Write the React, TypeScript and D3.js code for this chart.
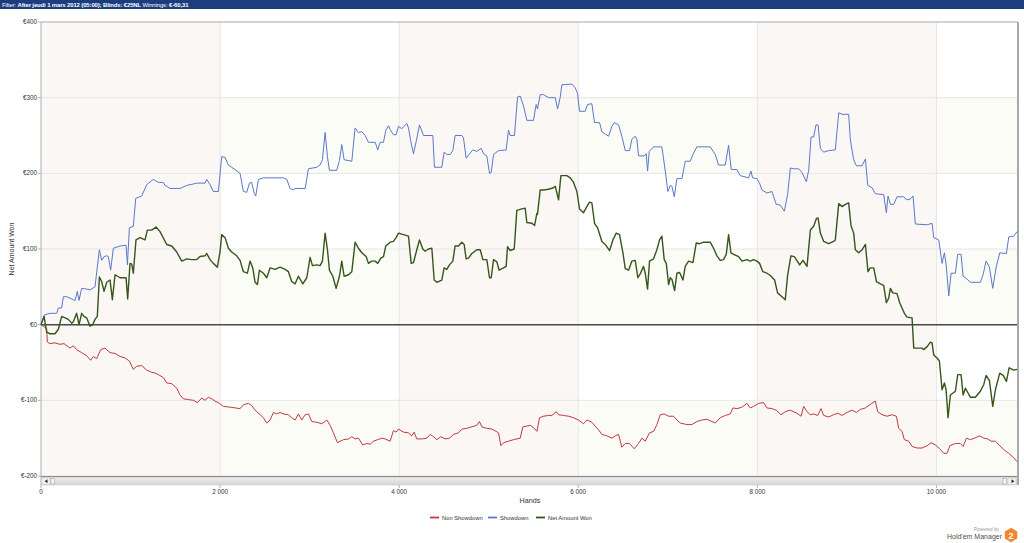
import React from "react";
import * as d3 from "d3";

const yTicks = [-200, -100, 0, 100, 200, 300, 400];
const xTicks = [0, 2000, 4000, 6000, 8000, 10000];
const xTickLabels = ["0", "2 000", "4 000", "6 000", "8 000", "10 000"];
const yTickLabels = ["€-200", "€-100", "€0", "€100", "€200", "€300", "€400"];
const seriesNames = ["Non Showdown", "Showdown", "Net Amount Won"];
const seriesColors = ["#c0393f", "#5a78c8", "#35561b"];

const showdown: [number, number][] = [
  [0,0],[40,13],[101,15],[175,15],[194,22],[231,22],[250,37],[287,37],[324,35],[361,33],[380,32],[406,44],[425,32],[454,48],[510,47],[547,46],[603,50],[652,99],[678,85],[704,90],[734,91],[752,90],[778,72],[808,101],[883,104],[950,105],[965,79],[987,128],[1031,130],[1058,167],[1125,170],[1180,185],[1255,192],[1311,188],[1367,188],[1385,184],[1441,180],[1553,180],[1627,184],[1702,186],[1739,187],[1832,187],[1851,192],[1888,185],[1925,176],[1981,176],[2018,222],[2056,221],[2093,211],[2130,208],[2167,205],[2223,200],[2260,176],[2298,175],[2327,187],[2353,188],[2380,174],[2398,170],[2428,192],[2484,194],[2707,194],[2745,192],[2782,180],
  [2819,178],[2838,180],[2950,180],[2987,206],[3080,208],[3117,211],[3143,218],[3173,254],[3199,222],[3221,204],[3303,204],[3333,217],[3359,238],[3385,218],[3471,216],[3508,260],[3545,254],[3583,255],[3620,250],[3657,241],[3732,241],[3761,231],[3787,241],[3825,241],[3851,257],[3881,263],[3899,258],[3936,251],[3966,251],[3992,262],[4030,259],[4085,266],[4104,260],[4130,242],[4160,226],[4190,242],[4227,264],[4272,250],[4376,250],[4394,208],[4476,208],[4502,228],[4532,225],[4570,225],[4599,230],[4625,250],[4700,250],[4718,247],[4748,220],[4774,224],[4823,231],[4867,229],[4916,233],[4942,226],[4979,223],[5009,200],[5028,201],[5054,225],[5110,230],[5195,231],[5221,257],[5240,250],[5288,250],[5322,301],[5352,302],[5389,289],[5426,270],[5500,270],[5530,291],[5545,285],[5575,304],[5612,304],[5668,300],
  [5743,300],[5769,285],[5798,300],[5817,317],[5929,318],[5966,313],[5992,306],[6014,282],[6078,282],[6104,291],[6152,292],[6182,267],[6238,267],[6264,255],[6301,252],[6338,249],[6376,262],[6402,267],[6450,264],[6487,249],[6525,230],[6573,230],[6599,245],[6636,249],[6655,245],[6674,223],[6737,223],[6759,226],[6774,203],[6793,229],[6841,235],[6934,235],[6972,203],[7001,176],[7027,184],[7046,183],[7072,169],[7102,193],[7158,193],[7195,216],[7251,216],[7281,225],[7325,235],[7474,235],[7530,225],[7567,211],[7642,211],[7679,237],[7709,205],[7772,205],[7809,197],[7903,194],[7929,203],[7947,194],[7996,193],[8025,187],[8051,178],[8107,174],[8163,176],[8211,159],[8256,158],[8302,150],[8338,172],[8369,207],
  [8406,206],[8462,206],[8499,201],[8547,189],[8574,204],[8600,248],[8629,248],[8655,264],[8678,264],[8704,233],[8741,228],[8797,230],[8871,231],[8909,280],[8946,278],[9020,278],[9039,244],[9076,218],[9106,210],[9169,210],[9207,219],[9233,184],[9281,181],[9318,173],[9411,172],[9441,148],[9460,170],[9486,159],[9523,159],[9560,169],[9635,169],[9665,165],[9709,166],[9739,170],[9765,133],[9896,132],[9951,134],[9970,115],[10026,112],[10063,81],[10089,95],[10108,80],[10138,38],[10164,68],[10212,68],[10238,93],[10275,93],[10298,64],[10324,62],[10380,56],[10491,56],[10521,66],[10555,84],[10592,76],[10629,48],[10666,75],[10707,95],[10782,94],[10808,116],[10864,117],[10901,123]
];

const netWon: [number, number][] = [
  [0,0],[34,11],[63,-10],[101,-12],[156,-12],[175,-9],[194,-6],[231,11],[268,9],[305,7],[343,2],[361,4],[398,15],[425,0],[454,15],[480,11],[510,9],[547,-2],[577,0],[603,7],[629,11],[652,63],[678,57],[704,44],[734,56],[771,59],[797,33],[827,66],[883,62],[950,62],[968,34],[994,81],[1013,80],[1031,68],[1061,112],[1106,115],[1162,112],[1188,125],[1236,125],[1285,129],[1329,123],[1404,106],[1460,104],[1516,96],[1572,84],[1627,87],[1683,86],[1739,86],[1776,90],[1832,91],[1851,94],[1888,86],[1925,81],[1970,76],[2000,97],[2018,119],[2056,115],[2093,101],[2130,96],[2186,91],[2223,85],[2260,70],[2305,68],[2335,84],[2365,75],[2391,56],[2417,53],[2439,72],[2484,68],[2521,62],[2558,75],[2614,73],[2670,76],[2726,73],[2763,70],[2800,57],[2838,54],[2875,64],[2924,54],[2968,62],[3005,89],[3032,78],[3080,79],[3117,78],[3143,84],[3173,121],[3199,99],[3221,72],[3259,64],[3296,48],[3333,64],[3359,84],[3385,64],[3434,66],[3471,70],[3508,109],[3545,101],[3583,95],[3631,90],[3657,81],[3694,84],[3732,84],[3761,81],[3795,88],[3825,90],[3851,104],[3899,109],[3936,110],[3966,115],[3992,121],[4048,119],[4104,117],[4134,81],[4160,82],[4197,99],[4227,112],[4264,100],[4290,97],[4327,100],[4365,101],[4391,59],[4421,56],[4476,59],[4502,75],[4532,73],[4562,79],[4599,84],[4625,104],[4663,104],[4700,109],[4726,106],[4748,87],[4774,88],[4812,94],[4867,99],[4905,99],[4935,86],[4979,86],[5009,62],[5028,62],[5054,86],[5091,83],[5117,72],[5165,75],[5195,77],[5210,103],[5240,98],[5285,100],[5314,151],[5370,153],[5407,154],[5426,135],[5482,134],[5512,131],[5538,147],[5545,146],[5575,178],[5612,178],[5668,179],
  [5724,181],[5743,183],[5780,165],[5806,197],[5873,197],[5910,194],[5947,188],[5985,176],[6014,153],[6059,148],[6096,156],[6126,162],[6152,161],[6182,134],[6216,128],[6264,110],[6301,106],[6350,98],[6387,112],[6424,121],[6461,119],[6499,95],[6525,74],[6562,72],[6599,84],[6636,85],[6666,62],[6692,67],[6729,77],[6748,68],[6774,47],[6796,84],[6841,87],[6878,99],[6908,112],[6934,117],[6960,86],[6983,81],[7009,53],[7027,62],[7046,60],[7076,45],[7102,68],[7132,69],[7169,59],[7195,77],[7232,84],[7281,82],[7318,108],[7355,107],[7400,109],[7474,109],[7511,101],[7549,91],[7586,85],[7623,86],[7653,93],[7679,119],[7705,95],[7735,93],[7791,90],[7828,84],[7884,86],[7921,84],[7958,86],[7996,84],[8025,81],[8062,70],[8107,68],[8145,65],[8193,59],[8226,42],[8275,37],[8312,33],[8338,65],[8375,91],
  [8413,90],[8473,79],[8510,85],[8555,77],[8592,125],[8629,130],[8659,140],[8678,141],[8704,121],[8741,110],[8797,107],[8853,110],[8871,112],[8909,160],[8946,156],[8983,159],[9020,161],[9046,131],[9076,121],[9095,99],[9132,95],[9169,99],[9207,106],[9236,70],[9262,75],[9300,75],[9330,57],[9374,54],[9411,52],[9441,29],[9467,35],[9486,48],[9512,42],[9560,41],[9590,29],[9642,15],[9672,10],[9728,9],[9747,-31],[9840,-31],[9858,-33],[9896,-29],[9933,-23],[9951,-24],[9970,-40],[10007,-44],[10033,-48],[10063,-86],[10089,-77],[10108,-86],[10130,-123],[10156,-93],[10212,-88],[10238,-66],[10275,-66],[10298,-93],[10324,-84],[10380,-96],[10435,-96],[10491,-88],[10529,-79],[10555,-67],[10592,-74],[10629,-108],[10659,-86],[10707,-64],[10745,-67],[10782,-75],[10812,-57],[10864,-60],[10901,-59]
];

const nonShowdown: [number, number][] = [
  [0,0],[63,-5],[71,-23],[101,-25],[156,-24],[212,-26],[257,-25],[324,-31],[361,-28],[398,-33],[454,-37],[510,-41],[555,-47],[585,-42],[622,-45],[667,-33],[715,-31],[771,-37],[827,-38],[883,-42],[938,-44],[987,-48],[1031,-59],[1069,-55],[1125,-54],[1180,-60],[1236,-63],[1274,-64],[1311,-66],[1367,-70],[1404,-77],[1460,-78],[1516,-84],[1553,-93],[1590,-98],[1646,-99],[1702,-100],[1747,-103],[1795,-97],[1832,-100],[1869,-96],[1907,-98],[1944,-101],[1992,-104],[2037,-108],[2112,-109],[2167,-110],[2223,-111],[2260,-106],[2316,-104],[2353,-107],[2391,-113],[2447,-119],[2484,-123],[2521,-130],[2558,-126],[2596,-116],[2633,-118],[2670,-116],[2707,-118],[2763,-119],[2800,-123],[2838,-126],[2875,-118],
  [2912,-126],[2950,-119],[2987,-118],[3024,-128],[3080,-129],[3136,-131],[3192,-126],[3229,-133],[3266,-143],[3311,-156],[3341,-154],[3378,-152],[3434,-151],[3471,-148],[3508,-151],[3545,-150],[3594,-159],[3639,-157],[3676,-158],[3713,-154],[3758,-152],[3806,-150],[3843,-151],[3899,-154],[3936,-140],[3966,-142],[3992,-138],[4048,-142],[4104,-143],[4141,-147],[4167,-142],[4197,-151],[4253,-151],[4309,-150],[4346,-145],[4383,-148],[4421,-152],[4465,-148],[4514,-151],[4562,-150],[4607,-145],[4663,-143],[4700,-138],[4756,-137],[4812,-135],[4867,-133],[4897,-128],[4923,-135],[4979,-137],[5035,-138],[5083,-141],[5110,-143],[5136,-160],[5165,-156],[5221,-154],[5277,-152],[5352,-150],[5381,-135],[5426,-134],[5463,-133],[5500,-136],[5538,-141],[5568,-123],[5612,-121],[5668,-120],
  [5705,-120],[5754,-115],[5780,-119],[5836,-120],[5892,-121],[5947,-123],[6003,-126],[6059,-131],[6096,-126],[6152,-129],[6189,-134],[6227,-139],[6264,-145],[6320,-147],[6376,-150],[6413,-147],[6450,-145],[6487,-162],[6525,-157],[6573,-157],[6625,-164],[6674,-157],[6711,-150],[6748,-154],[6796,-143],[6841,-141],[6878,-132],[6916,-119],[6960,-118],[7009,-121],[7065,-121],[7102,-126],[7139,-130],[7214,-132],[7269,-132],[7325,-128],[7381,-126],[7437,-125],[7493,-128],[7530,-130],[7586,-123],[7642,-120],[7698,-118],[7727,-110],[7772,-111],[7828,-109],[7884,-104],[7921,-110],[7958,-108],[8014,-104],[8070,-103],[8107,-110],[8163,-111],[8211,-113],[8264,-119],[8312,-115],[8368,-113],[8442,-117],
  [8488,-121],[8518,-108],[8555,-115],[8592,-119],[8629,-118],[8674,-120],[8711,-111],[8741,-120],[8797,-122],[8853,-119],[8898,-117],[8946,-120],[9002,-116],[9058,-113],[9106,-116],[9151,-112],[9207,-110],[9255,-106],[9292,-103],[9318,-101],[9344,-115],[9393,-119],[9449,-121],[9505,-119],[9553,-121],[9579,-137],[9616,-141],[9642,-152],[9691,-154],[9728,-161],[9784,-163],[9840,-163],[9896,-160],[9940,-156],[9989,-159],[10037,-164],[10082,-170],[10119,-170],[10149,-160],[10212,-157],[10268,-157],[10298,-161],[10335,-150],[10380,-152],[10424,-150],[10484,-147],[10529,-150],[10573,-151],[10610,-154],[10659,-154],[10707,-160],[10752,-165],[10808,-170],[10864,-176],[10901,-181]
];

const headerParts = ["Filter: ", "After jeudi 1 mars 2012 (05:00); Blinds: €25NL", " Winnings: ", "€-60,31"];
const headerBold = [false, true, false, true];

const W = 1024;
const H = 543;
const FONT = "'Liberation Sans', Arial, sans-serif";

export default function App() {
  const x = d3.scaleLinear().domain([0, 10900]).range([41, 1017]);
  const y = d3.scaleLinear().domain([-200, 400]).range([476, 22]);
  const line = d3.line<[number, number]>().x((d) => x(d[0])).y((d) => y(d[1]));

  const colBounds = [0, 2000, 4000, 6000, 8000, 10000, 10900];
  const bands: JSX.Element[] = [];
  for (let i = 0; i < colBounds.length - 1; i++) {
    const x0 = x(colBounds[i]);
    const x1 = x(colBounds[i + 1]);
    if (i % 2 === 0) {
      bands.push(<rect key={"c" + i} x={x0} y={y(400)} width={x1 - x0} height={y(-200) - y(400)} fill="#fbf7f5" />);
    } else {
      [[300, 200], [100, 0], [-100, -200]].forEach(([a, b], j) => {
        bands.push(<rect key={"r" + i + "-" + j} x={x0} y={y(a)} width={x1 - x0} height={y(b) - y(a)} fill="#fcfcf6" />);
      });
    }
  }

  const series = [nonShowdown, showdown, netWon];
  const legendX = [430, 488, 536];

  return (
    <div style={{ position: "absolute", left: 0, top: 0 }}>
      <svg width={W} height={H} style={{ display: "block", fontFamily: FONT }}>
        <rect x={0} y={0} width={W} height={H} fill="#ffffff" />
        {/* header */}
        <rect x={0} y={0} width={W} height={9} fill="#1c3e7e" />
        <text x={2} y={6.7} fontSize={5.9} fill="#ffffff" letterSpacing={-0.1} style={{ whiteSpace: "pre" }}>
          {headerParts.map((p, i) => (
            <tspan key={"h" + i} fontWeight={headerBold[i] ? "bold" : "normal"}>{p}</tspan>
          ))}
        </text>

        {/* plot background */}
        {bands}
        {/* gridlines */}
        {yTicks.map((t) => (
          <line key={"gy" + t} x1={x(0)} x2={x(10900)} y1={y(t)} y2={y(t)} stroke="#e6e6e6" strokeWidth={1} />
        ))}
        {xTicks.slice(1).map((t) => (
          <line key={"gx" + t} x1={x(t)} x2={x(t)} y1={y(400)} y2={y(-200)} stroke="#e6e6e6" strokeWidth={1} />
        ))}
        {/* frame */}
        <line x1={x(0)} x2={x(10900) + 1} y1={y(400)} y2={y(400)} stroke="#b4b4b4" strokeWidth={1} />
        <line x1={x(0)} x2={x(0)} y1={y(400)} y2={y(-200) + 9} stroke="#b0b0b0" strokeWidth={1} />
        <line x1={x(10900) + 1} x2={x(10900) + 1} y1={y(400)} y2={y(-200) + 9} stroke="#8c8c8c" strokeWidth={1.5} />
        {/* y ticks */}
        {yTicks.map((t, i) => (
          <g key={"yt" + t}>
            <line x1={x(0) - 3} x2={x(0)} y1={y(t)} y2={y(t)} stroke="#b0b0b0" />
            <text x={x(0) - 4} y={y(t) + 2} fontSize={6.3} fill="#333" textAnchor="end">{yTickLabels[i]}</text>
          </g>
        ))}
        <text transform={`translate(14,${(y(400) + y(-200)) / 2}) rotate(-90)`} fontSize={7} fill="#333" textAnchor="middle">Net Amount Won</text>

        {/* zero line */}
        <line x1={x(0)} x2={x(10900)} y1={y(0)} y2={y(0)} stroke="#4a4a4a" strokeWidth={1.5} />

        {/* series */}
        {series.map((s, i) => (
          <path key={"s" + i} d={line(s) || ""} fill="none" stroke={seriesColors[i]} strokeWidth={i === 2 ? 1.4 : 1} strokeLinejoin="round" />
        ))}

        {/* scrollbar */}
        <line x1={x(0)} x2={x(10900)} y1={y(-200) + 0.5} y2={y(-200) + 0.5} stroke="#8a8a8a" strokeWidth={1.2} />
        <defs>
          <linearGradient id="sb" x1="0" y1="0" x2="0" y2="1">
            <stop offset="0" stopColor="#ececec" />
            <stop offset="1" stopColor="#d6d6d6" />
          </linearGradient>
        </defs>
        <rect x={x(0)} y={y(-200) + 1.5} width={x(10900) - x(0)} height={7.5} fill="url(#sb)" stroke="#c4c4c4" strokeWidth={0.5} />
        <rect x={x(0) + 1} y={y(-200) + 2} width={8} height={6.5} fill="#f4f4f4" stroke="#bbb" strokeWidth={0.5} />
        <path d={`M${x(0) + 3.5},${y(-200) + 5.2} l3,-2 v4 z`} fill="#333" />
        <rect x={x(0) + 10} y={y(-200) + 2.5} width={3.5} height={5.5} fill="#f8f8f8" stroke="#999" strokeWidth={0.5} />
        <rect x={x(10900) - 14} y={y(-200) + 2.5} width={3.5} height={5.5} fill="#f8f8f8" stroke="#999" strokeWidth={0.5} />
        <rect x={x(10900) - 9} y={y(-200) + 2} width={8} height={6.5} fill="#f4f4f4" stroke="#bbb" strokeWidth={0.5} />
        <path d={`M${x(10900) - 2.5},${y(-200) + 5.2} l-3,-2 v4 z`} fill="#333" />

        {/* x ticks */}
        {xTicks.map((t, i) => (
          <g key={"xt" + t}>
            <line x1={x(t)} x2={x(t)} y1={y(-200) + 9} y2={y(-200) + 12} stroke="#b0b0b0" />
            <text x={x(t)} y={y(-200) + 17.5} fontSize={6.3} fill="#333" textAnchor="middle">{xTickLabels[i]}</text>
          </g>
        ))}
        <text x={530} y={503} fontSize={7.2} fill="#333" textAnchor="middle">Hands</text>

        {/* legend */}
        {seriesNames.map((n, i) => (
          <g key={"lg" + i}>
            <line x1={legendX[i]} x2={legendX[i] + 9} y1={517.5} y2={517.5} stroke={seriesColors[i]} strokeWidth={1.8} />
            <text x={legendX[i] + 12} y={519.5} fontSize={5.8} fill="#333">{n}</text>
          </g>
        ))}

        {/* logo */}
        <text x={999} y={531} fontSize={4.8} fill="#9a9a9a" textAnchor="end">Powered by</text>
        <text x={1002} y={539} fontSize={7} fill="#4d4d4d" textAnchor="end">Hold'em Manager</text>
        <path d={d3.range(6).map((k) => { const a = Math.PI / 3 * k + Math.PI / 6; return (k ? "L" : "M") + (1011 + 7.2 * Math.cos(a)) + "," + (535 + 7.2 * Math.sin(a)); }).join("") + "Z"} fill="#f1882a" />
        <text x={1011} y={538.5} fontSize={9} fontWeight="bold" fill="#ffffff" textAnchor="middle">2</text>
      </svg>
    </div>
  );
}
